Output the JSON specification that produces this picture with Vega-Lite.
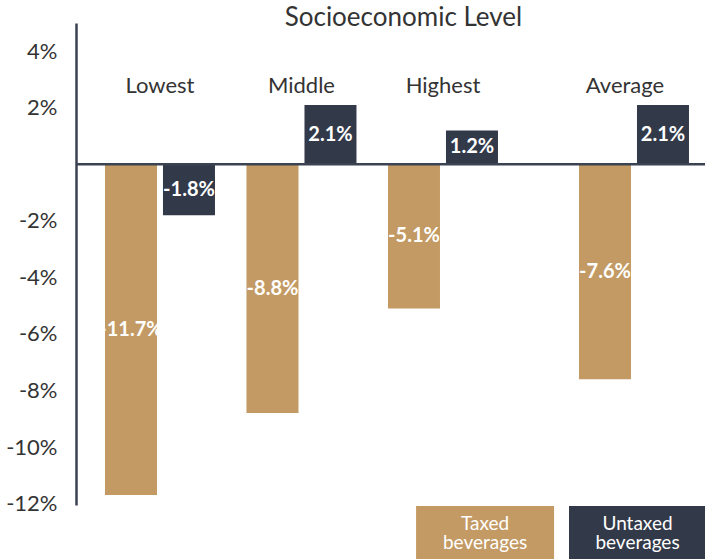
{
  "$schema": "https://vega.github.io/schema/vega-lite/v6.json",
  "background": "white",
  "padding": {"left": 5, "top": 5, "right": 0, "bottom": 0},
  "autosize": {"type": "pad"},
  "config": {
    "view": {"stroke": null},
    "font": "Lato",
    "text": {"font": "Lato"},
    "locale": {"number": {"decimal": ".", "thousands": ",", "grouping": [3], "currency": ["$", ""], "minus": "-"}}
  },
  "title": {
    "text": "Socioeconomic Level",
    "anchor": "middle",
    "dx": 47,
    "offset": -29,
    "baseline": "alphabetic",
    "font": "Lato",
    "fontSize": 26,
    "fontWeight": "normal",
    "color": "#333333"
  },
  "datasets": {
    "bars": [
      {"level": "Lowest", "type": "Taxed beverages", "value": -0.117},
      {"level": "Lowest", "type": "Untaxed beverages", "value": -0.018},
      {"level": "Middle", "type": "Taxed beverages", "value": -0.088},
      {"level": "Middle", "type": "Untaxed beverages", "value": 0.021},
      {"level": "Highest", "type": "Taxed beverages", "value": -0.051},
      {"level": "Highest", "type": "Untaxed beverages", "value": 0.012},
      {"level": "Average", "type": "Taxed beverages", "value": -0.076},
      {"level": "Average", "type": "Untaxed beverages", "value": 0.021}
    ],
    "legend": [
      {"type": "Taxed beverages"},
      {"type": "Untaxed beverages"}
    ]
  },
  "columns": 2,
  "bounds": "flush",
  "spacing": {"row": 1, "column": 0},
  "concat": [
    {
      "width": 485,
      "height": 482,
      "data": {"name": "bars"},
      "transform": [
        {"filter": "datum.level !== 'Average'"},
        {"calculate": "datum.value / 2", "as": "labelY"}
      ],
      "layer": [
        {
          "mark": {"type": "bar"},
          "encoding": {
            "x": {"field": "level", "type": "nominal", "sort": ["Lowest", "Middle", "Highest"], "scale": {"paddingInner": 0.2226, "paddingOuter": 0.3251, "align": 0.315}, "axis": null},
            "xOffset": {"field": "type", "type": "nominal", "sort": ["Taxed beverages", "Untaxed beverages"], "scale": {"paddingInner": 0.1034, "paddingOuter": 0}},
            "y": {
              "field": "value", "type": "quantitative",
              "scale": {"domain": [-0.1205, 0.05], "nice": false, "zero": false},
              "axis": {
                "values": [-0.12, -0.1, -0.08, -0.06, -0.04, -0.02, 0.02, 0.04],
                "format": ".0%",
                "title": null, "ticks": false, "grid": false,
                "domain": true, "domainColor": "#3b4252", "domainWidth": 2.5,
                "labelFont": "Lato", "labelFontSize": 22, "labelColor": "#333333",
                "labelPadding": 19
              }
            },
            "color": {"field": "type", "type": "nominal", "scale": {"domain": ["Taxed beverages", "Untaxed beverages"], "range": ["#C39A63", "#323949"]}, "legend": null}
          }
        },
        {
          "mark": {"type": "text", "color": "white", "fontWeight": "bold", "fontSize": 20, "baseline": "middle"},
          "encoding": {
            "x": {"field": "level", "type": "nominal", "sort": ["Lowest", "Middle", "Highest"]},
            "xOffset": {"field": "type", "type": "nominal", "sort": ["Taxed beverages", "Untaxed beverages"]},
            "y": {"field": "labelY", "type": "quantitative"},
            "text": {"field": "value", "type": "quantitative", "format": ".1%"}
          }
        },
        {
          "transform": [{"filter": "datum.type === 'Taxed beverages'"}],
          "mark": {"type": "text", "color": "#333333", "fontSize": 22, "baseline": "alphabetic"},
          "encoding": {
            "x": {"field": "level", "type": "nominal", "sort": ["Lowest", "Middle", "Highest"]},
            "y": {"datum": 0.0254},
            "text": {"field": "level"}
          }
        },
        {
          "data": {"values": [{}]},
          "mark": {"type": "rule", "color": "#3b4252", "strokeWidth": 2.5},
          "encoding": {"y": {"datum": 0}}
        }
      ]
    },
    {
      "width": 145,
      "height": 482,
      "data": {"name": "bars"},
      "transform": [
        {"filter": "datum.level === 'Average'"},
        {"calculate": "datum.value / 2", "as": "labelY"}
      ],
      "layer": [
        {
          "mark": {"type": "bar"},
          "encoding": {
            "x": {"field": "level", "type": "nominal", "scale": {"paddingInner": 0, "paddingOuter": 0.159, "align": 0.514}, "axis": null},
            "xOffset": {"field": "type", "type": "nominal", "sort": ["Taxed beverages", "Untaxed beverages"], "scale": {"paddingInner": 0.1034, "paddingOuter": 0}},
            "y": {"field": "value", "type": "quantitative", "scale": {"domain": [-0.1205, 0.05], "nice": false, "zero": false}, "axis": null},
            "color": {"field": "type", "type": "nominal", "scale": {"domain": ["Taxed beverages", "Untaxed beverages"], "range": ["#C39A63", "#323949"]}, "legend": null}
          }
        },
        {
          "mark": {"type": "text", "color": "white", "fontWeight": "bold", "fontSize": 20, "baseline": "middle"},
          "encoding": {
            "x": {"field": "level", "type": "nominal"},
            "xOffset": {"field": "type", "type": "nominal", "sort": ["Taxed beverages", "Untaxed beverages"]},
            "y": {"field": "labelY", "type": "quantitative"},
            "text": {"field": "value", "type": "quantitative", "format": ".1%"}
          }
        },
        {
          "transform": [{"filter": "datum.type === 'Taxed beverages'"}],
          "mark": {"type": "text", "color": "#333333", "fontSize": 22, "baseline": "alphabetic", "dx": -9},
          "encoding": {
            "x": {"field": "level", "type": "nominal"},
            "y": {"datum": 0.0254},
            "text": {"field": "level"}
          }
        },
        {
          "data": {"values": [{}]},
          "mark": {"type": "rule", "color": "#3b4252", "strokeWidth": 2.5},
          "encoding": {"y": {"datum": 0}}
        }
      ]
    },
    {
      "width": 485,
      "height": 54,
      "data": {"name": "legend"},
      "transform": [{"filter": "datum.type === 'Taxed beverages'"}],
      "layer": [
        {
          "mark": {"type": "bar"},
          "encoding": {
            "x": {"field": "type", "type": "nominal", "scale": {"paddingInner": 0.2047, "paddingOuter": 1, "align": 0.98}, "axis": null},
            "color": {"field": "type", "type": "nominal", "scale": {"domain": ["Taxed beverages", "Untaxed beverages"], "range": ["#C39A63", "#323949"]}, "legend": null}
          }
        },
        {
          "mark": {"type": "text", "color": "white", "fontSize": 19, "lineBreak": " ", "lineHeight": 19, "baseline": "middle", "dy": -9},
          "encoding": {
            "x": {"field": "type", "type": "nominal"},
            "text": {"field": "type"}
          }
        }
      ]
    },
    {
      "width": 145,
      "height": 54,
      "data": {"name": "legend"},
      "transform": [{"filter": "datum.type === 'Untaxed beverages'"}],
      "layer": [
        {
          "mark": {"type": "bar"},
          "encoding": {
            "x": {"field": "type", "type": "nominal", "scale": {"paddingInner": 0, "paddingOuter": 0.0292, "align": 1}, "axis": null},
            "color": {"field": "type", "type": "nominal", "scale": {"domain": ["Taxed beverages", "Untaxed beverages"], "range": ["#C39A63", "#323949"]}, "legend": null}
          }
        },
        {
          "mark": {"type": "text", "color": "white", "fontSize": 19, "lineBreak": " ", "lineHeight": 19, "baseline": "middle", "dy": -9},
          "encoding": {
            "x": {"field": "type", "type": "nominal"},
            "text": {"field": "type"}
          }
        }
      ]
    }
  ]
}
